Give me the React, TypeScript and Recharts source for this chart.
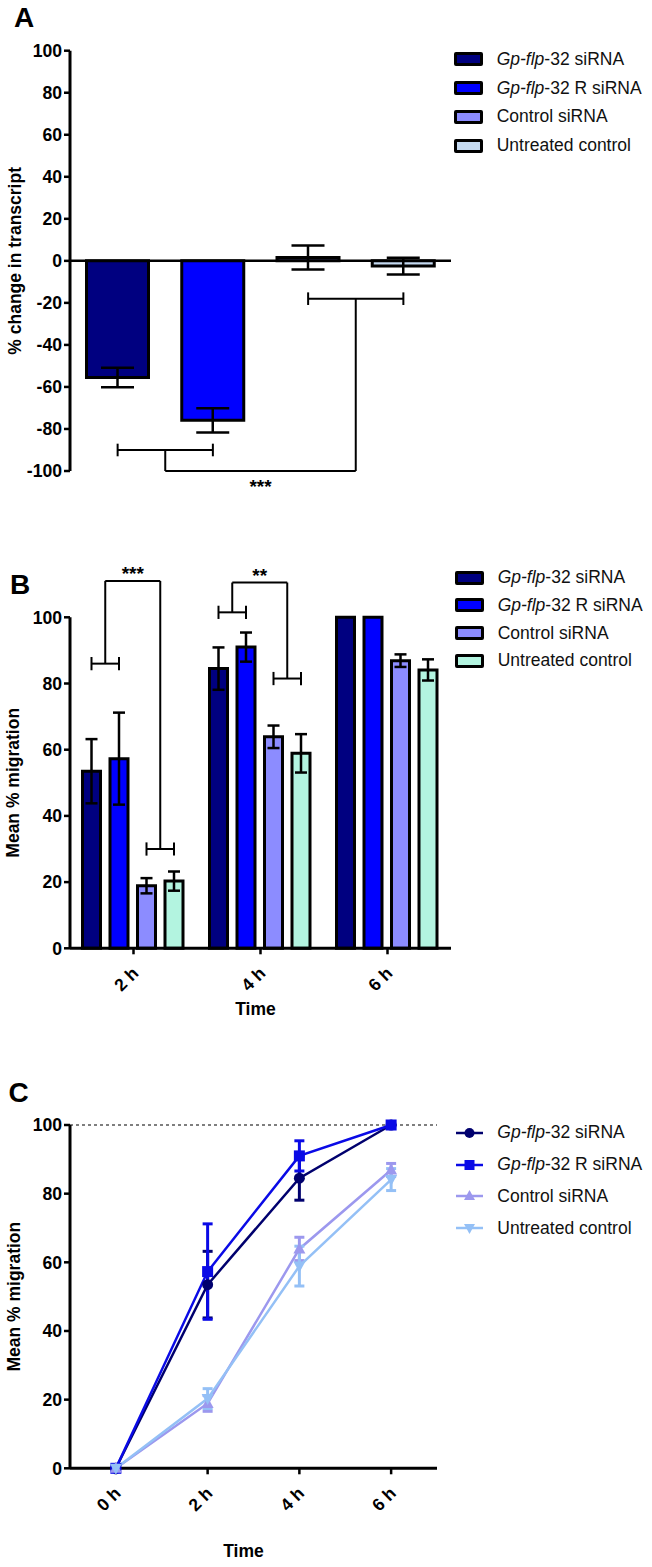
import React from "react";
import {
  Bar, BarChart, Cell, ErrorBar, Legend, Line, LineChart, ReferenceLine, XAxis, YAxis,
} from "recharts";

const FONT = '"Liberation Sans", Arial, Helvetica, sans-serif';

// the four treatments, same order in every panel
const groupNames = ["Gp-flp-32 siRNA", "Gp-flp-32 R siRNA", "Control siRNA", "Untreated control"];

// A: % change in transcript
const transcriptChange = [-55.5, -75.9, 1.6, -2.5];
const transcriptErr = [4.6, 5.8, 5.7, 4.0];
const transcriptTicks = [-100, -80, -60, -40, -20, 0, 20, 40, 60, 80, 100];

// B: mean % migration at each time point
const timePoints = ["2 h", "4 h", "6 h"];
const migSiRNA = [53.5, 84.5, 100];
const migSiRNAErr = [9.7, 6.4, 0];
const migRSiRNA = [57.3, 91.0, 100];
const migRSiRNAErr = [13.9, 4.4, 0];
const migControl = [18.9, 63.9, 86.9];
const migControlErr = [2.3, 3.4, 1.9];
const migUntreated = [20.3, 58.9, 84.1];
const migUntreatedErr = [2.9, 5.8, 3.2];
const migTicks = [0, 20, 40, 60, 80, 100];

// C: same migration data as a time course, starting from 0 at 0 h
const hours = [0, 2, 4, 6];
const startValue = 0;

// significance brackets (bar indexes, heights in data units)
const bracketsA = [
  { from: 0, to: 1, y: -90 },
  { from: 2, to: 3, y: -18 },
];
const linkA = { y: -100, label: "***" };
const bracketsB = [
  { group: 0, leftY: 86, rightY: 30, top: 111, label: "***" },
  { group: 1, leftY: 101.5, rightY: 81.5, top: 110.5, label: "**" },
];

const colorsA = ["#000080", "#0000FF", "#8C8CFF", "#C4D9F0"];
const colorsB = ["#000080", "#0000FF", "#8C8CFF", "#B3F4E0"];
const colorsC = ["#00006E", "#0A0AE6", "#9C98EE", "#94C0F6"];
const markersC = ["circle", "square", "up", "down"];

// "slot" = band centre on the hidden numeric axis used for annotations
const rowsA = groupNames.map((name, i) => ({ name, slot: i + 0.5, value: transcriptChange[i], err: transcriptErr[i] }));
const seriesB = [migSiRNA, migRSiRNA, migControl, migUntreated];
const errB = [migSiRNAErr, migRSiRNAErr, migControlErr, migUntreatedErr];
const rowsB = timePoints.map((time, t) => {
  const row: any = { time, slot: t + 0.5 };
  seriesB.forEach((s, i) => {
    row["s" + i] = s[t];
    row["e" + i] = errB[i][t];
  });
  return row;
});
const rowsC = hours.map((h, t) => {
  const row: any = { h };
  seriesB.forEach((s, i) => {
    row["s" + i] = t === 0 ? startValue : s[t - 1];
    row["e" + i] = t === 0 ? 0 : errB[i][t - 1];
  });
  return row;
});

// layout of panel B bars (px), used to put brackets on bar centres
const PLOT_W = 381;
const BAND_B = PLOT_W / timePoints.length;
const CAT_GAP_B = 12.5;
const BAR_GAP_B = 9.5;
const BAR_W_B = Math.floor((BAND_B - 2 * CAT_GAP_B - 3 * BAR_GAP_B) / 4);
const barCentreB = (g: number, i: number) =>
  g + (CAT_GAP_B + BAR_W_B / 2 + i * (BAR_W_B + BAR_GAP_B)) / BAND_B;

const axisLine = { stroke: "#000", strokeWidth: 3 };
const tickLine = { stroke: "#000", strokeWidth: 2.5 };
const tickStyle = { fontSize: 17.6, fontWeight: "bold", fill: "#000", fontFamily: FONT };
const seg = { stroke: "#000", strokeWidth: 2, ifOverflow: "visible" as const, xAxisId: "n" };

function SeriesName({ name }: { name: string }) {
  if (name.startsWith("Gp-flp")) return <span><i>Gp-flp</i>{name.slice(6)}</span>;
  return <span>{name}</span>;
}

function BoxLegend({ colors, rowH }: { colors: string[]; rowH: number }) {
  return (
    <div style={{ fontFamily: FONT, fontSize: 17.5, color: "#111" }}>
      {groupNames.map((n, i) => (
        <div key={n} style={{ display: "flex", alignItems: "center", height: rowH }}>
          <div style={{ width: 23, height: 8, border: "3px solid #000", borderRadius: 2, background: colors[i] }} />
          <div style={{ marginLeft: 13.7, whiteSpace: "nowrap" }}><SeriesName name={n} /></div>
        </div>
      ))}
    </div>
  );
}

function Marker({ kind, cx, cy, color, s = 5.5 }: any) {
  if (kind === "circle") return <circle cx={cx} cy={cy} r={s} fill={color} />;
  if (kind === "square") return <rect x={cx - s} y={cy - s} width={2 * s} height={2 * s} fill={color} />;
  if (kind === "up")
    return <polygon points={`${cx},${cy - s - 1} ${cx + s + 0.5},${cy + s - 1} ${cx - s - 0.5},${cy + s - 1}`} fill={color} />;
  return <polygon points={`${cx},${cy + s + 1} ${cx + s + 0.5},${cy - s + 1} ${cx - s - 0.5},${cy - s + 1}`} fill={color} />;
}

function LineLegend() {
  return (
    <div style={{ fontFamily: FONT, fontSize: 17.5, color: "#111" }}>
      {groupNames.map((n, i) => (
        <div key={n} style={{ display: "flex", alignItems: "center", height: 31.9 }}>
          <svg width={27} height={14}>
            <line x1={0} x2={27} y1={7} y2={7} stroke={colorsC[i]} strokeWidth={2.5} />
            <Marker kind={markersC[i]} cx={13.5} cy={7} color={colorsC[i]} s={5} />
          </svg>
          <div style={{ marginLeft: 14.3, whiteSpace: "nowrap" }}><SeriesName name={n} /></div>
        </div>
      ))}
    </div>
  );
}

const yTitle = (text: string, x: number) => (props: any) => {
  const vb = props.viewBox;
  const cy = vb.y + vb.height / 2;
  return (
    <text x={x} y={cy} transform={`rotate(-90, ${x}, ${cy})`} textAnchor="middle"
      fontSize={17.5} fontWeight="bold" fontFamily={FONT} fill="#000">{text}</text>
  );
};

const xTitle = (text: string, dx: number, dy: number) => (props: any) => {
  const vb = props.viewBox;
  return (
    <text x={vb.x + vb.width / 2 + dx} y={vb.y + dy} textAnchor="middle"
      fontSize={17.5} fontWeight="bold" fontFamily={FONT} fill="#000">{text}</text>
  );
};

function SlantTick(props: any) {
  const { x, y, payload } = props;
  const v = payload.value;
  const ax = x + 6;
  const ay = y + 18;
  return (
    <text x={ax} y={ay} transform={`rotate(-45, ${ax}, ${ay})`} textAnchor="end"
      fontSize={17.6} fontWeight="bold" fontFamily={FONT} fill="#000">
      {typeof v === "number" ? `${v} h` : v}
    </text>
  );
}

// one bracket: horizontal bar with end ticks
function bracket(key: string, x1: number, x2: number, y: number, tick: number) {
  return [
    <ReferenceLine key={key + "h"} segment={[{ x: x1, y }, { x: x2, y }]} {...seg} />,
    <ReferenceLine key={key + "l"} segment={[{ x: x1, y: y - tick }, { x: x1, y: y + tick }]} {...seg} />,
    <ReferenceLine key={key + "r"} segment={[{ x: x2, y: y - tick }, { x: x2, y: y + tick }]} {...seg} />,
  ];
}

function PanelA() {
  const c = (i: number) => i + 0.5;
  const m1 = (c(bracketsA[0].from) + c(bracketsA[0].to)) / 2;
  const m2 = (c(bracketsA[1].from) + c(bracketsA[1].to)) / 2;
  return (
    <BarChart width={652} height={500} data={rowsA} margin={{ top: 50.7, right: 201, bottom: 29, left: 0 }}
      barCategoryGap={16.5} style={{ fontFamily: FONT }}>
      <XAxis dataKey="name" hide />
      <XAxis xAxisId="n" dataKey="slot" type="number" domain={[0, 4]} allowDataOverflow hide />
      <YAxis width={70} domain={[-100, 100]} ticks={transcriptTicks} interval={0} axisLine={axisLine}
        tickLine={tickLine} tickSize={6} tick={tickStyle} label={yTitle("% change in transcript", 21)} />
      <ReferenceLine y={0} stroke="#000" strokeWidth={2.5} />
      <Bar dataKey="value" stroke="#000" strokeWidth={3} isAnimationActive={false}>
        {rowsA.map((_, i) => <Cell key={i} fill={colorsA[i]} />)}
        <ErrorBar dataKey="err" width={16.5} strokeWidth={2.5} stroke="#000" direction="y" />
      </Bar>
      {bracketsA.flatMap((b, i) => bracket("a" + i, c(b.from), c(b.to), b.y, 3))}
      <ReferenceLine segment={[{ x: m1, y: bracketsA[0].y }, { x: m1, y: linkA.y }]} {...seg} />
      <ReferenceLine segment={[{ x: m1, y: linkA.y }, { x: m2, y: linkA.y }]} {...seg}
        label={{ value: linkA.label, position: "bottom", offset: 9, fontSize: 19, fontWeight: "bold", fill: "#000" }} />
      <ReferenceLine segment={[{ x: m2, y: linkA.y }, { x: m2, y: bracketsA[1].y }]} {...seg} />
      <Legend layout="vertical" align="center" verticalAlign="middle"
        wrapperStyle={{ left: 454, top: 45, width: 198 }}
        content={() => <BoxLegend colors={colorsA} rowH={28.8} />} />
    </BarChart>
  );
}

function PanelB() {
  const els: any[] = [];
  bracketsB.forEach((b, k) => {
    const l1 = barCentreB(b.group, 0), l2 = barCentreB(b.group, 1);
    const r1 = barCentreB(b.group, 2), r2 = barCentreB(b.group, 3);
    const lm = (l1 + l2) / 2, rm = (r1 + r2) / 2;
    els.push(...bracket("bl" + k, l1, l2, b.leftY, 2));
    els.push(...bracket("br" + k, r1, r2, b.rightY, 2));
    els.push(<ReferenceLine key={"bu" + k} segment={[{ x: lm, y: b.leftY }, { x: lm, y: b.top }]} {...seg} />);
    els.push(<ReferenceLine key={"bt" + k} segment={[{ x: lm, y: b.top }, { x: rm, y: b.top }]} {...seg}
      label={{ value: b.label, position: "top", offset: 0.5, fontSize: 19, fontWeight: "bold", fill: "#000" }} />);
    els.push(<ReferenceLine key={"bd" + k} segment={[{ x: rm, y: b.top }, { x: rm, y: b.rightY }]} {...seg} />);
  });
  return (
    <BarChart width={652} height={540} data={rowsB} margin={{ top: 117.3, right: 201, bottom: 31.7, left: 0 }}
      barCategoryGap={CAT_GAP_B} barGap={BAR_GAP_B} style={{ fontFamily: FONT }}>
      <XAxis dataKey="time" height={60} axisLine={axisLine} tickLine={tickLine} tickSize={6}
        tick={<SlantTick />} interval={0} label={xTitle("Time", -5, 66.7)} />
      <XAxis xAxisId="n" dataKey="slot" type="number" domain={[0, 3]} allowDataOverflow hide />
      <YAxis width={70} domain={[0, 100]} ticks={migTicks} interval={0} axisLine={axisLine}
        tickLine={tickLine} tickSize={6} tick={tickStyle} label={yTitle("Mean % migration", 19.5)} />
      {seriesB.map((_, i) => (
        <Bar key={i} dataKey={"s" + i} fill={colorsB[i]} stroke="#000" strokeWidth={3} isAnimationActive={false}>
          <ErrorBar dataKey={"e" + i} width={6} strokeWidth={2.5} stroke="#000" direction="y" />
        </Bar>
      ))}
      {els}
      <Legend layout="vertical" align="center" verticalAlign="middle"
        wrapperStyle={{ left: 455, top: 63.8, width: 197 }}
        content={() => <BoxLegend colors={colorsB} rowH={27.7} />} />
    </BarChart>
  );
}

function PanelC() {
  return (
    <LineChart width={652} height={527} data={rowsC} margin={{ top: 85, right: 215, bottom: 38.7, left: 0 }}
      style={{ fontFamily: FONT }}>
      <XAxis dataKey="h" type="number" domain={[-1, 7]} ticks={hours} interval={0} height={60}
        axisLine={axisLine} tickLine={tickLine} tickSize={6} tick={<SlantTick />} label={xTitle("Time", -10, 88.7)} />
      <YAxis width={70} domain={[0, 100]} ticks={migTicks} interval={0} axisLine={axisLine}
        tickLine={tickLine} tickSize={6} tick={tickStyle} label={yTitle("Mean % migration", 20)} />
      <ReferenceLine y={100} stroke="#555" strokeWidth={1.5} strokeDasharray="3 3" />
      {seriesB.map((_, i) => (
        <Line key={i} type="linear" dataKey={"s" + i} stroke={colorsC[i]} strokeWidth={2.5} isAnimationActive={false}
          dot={(p: any) => <Marker key={"m" + i + "-" + p.index} kind={markersC[i]} cx={p.cx} cy={p.cy} color={colorsC[i]} />}
          activeDot={false}>
          <ErrorBar dataKey={"e" + i} width={5} strokeWidth={3} stroke={colorsC[i]} direction="y" />
        </Line>
      ))}
      <Legend layout="vertical" align="center" verticalAlign="middle"
        wrapperStyle={{ left: 456, top: 76.7, width: 196 }}
        content={() => <LineLegend />} />
    </LineChart>
  );
}

const letter = (ch: string, left: number, top: number) => (
  <div style={{ position: "absolute", left, top, fontFamily: FONT, fontWeight: "bold", fontSize: 28, lineHeight: "28px" }}>{ch}</div>
);

export default function App() {
  return (
    <div style={{ position: "absolute", left: 0, top: 0, width: 652, height: 1567, background: "#fff" }}>
      <div style={{ position: "absolute", left: 0, top: 0 }}><PanelA /></div>
      <div style={{ position: "absolute", left: 0, top: 500 }}><PanelB /></div>
      <div style={{ position: "absolute", left: 0, top: 1040 }}><PanelC /></div>
      {letter("A", 14, 4)}
      {letter("B", 10, 571)}
      {letter("C", 8.5, 1079)}
    </div>
  );
}
